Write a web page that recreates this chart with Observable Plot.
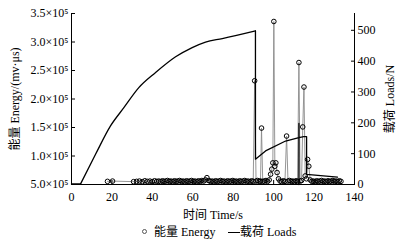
<!DOCTYPE html>
<html><head><meta charset="utf-8">
<script src="https://cdn.jsdelivr.net/npm/d3@7"></script>
<script src="https://cdn.jsdelivr.net/npm/@observablehq/plot@0.6"></script>
<style>
body{margin:0;background:#fff;}
#chart{width:397px;font-family:"Liberation Serif","Times New Roman","DejaVu Serif","Noto Sans CJK SC",serif;color:#000;}
#chart svg text{font-family:"Liberation Serif","Times New Roman","DejaVu Serif","Noto Sans CJK SC",serif;}
.legend{position:relative;width:397px;height:20px;font-size:12px;line-height:20px;}
.legend span{position:absolute;top:0;white-space:nowrap;}
</style></head><body><div id="chart"></div><script>
// Energy series (circles, left axis)
const energyTime = [17.8, 20.3, 30.7, 32.2, 33.6, 35.0, 36.3, 37.5, 38.8, 40.0, 41.1, 42.2, 43.2, 44.1, 45.0, 45.8, 46.7, 47.5, 48.4, 49.2, 50.1, 50.9, 51.8, 52.6, 53.5, 54.3, 55.2, 56.0, 56.9, 57.7, 58.6, 59.4, 60.3, 61.1, 62.0, 62.8, 63.7, 64.5, 65.4, 66.2, 67.0, 67.9, 68.7, 69.6, 70.4, 71.3, 72.1, 73.0, 73.8, 74.7, 75.5, 76.4, 77.2, 78.1, 78.9, 79.8, 80.6, 81.5, 82.3, 83.2, 84.0, 84.9, 85.7, 86.6, 87.4, 88.3, 89.1, 89.9, 90.6, 91.3, 92.1, 92.9, 93.5, 94.0, 94.6, 95.4, 96.2, 97.0, 97.8, 98.5, 99.1, 99.6, 100.1, 100.6, 101.1, 101.7, 102.4, 103.2, 104.0, 104.8, 105.6, 106.4, 107.1, 107.9, 108.7, 109.5, 110.3, 111.1, 111.8, 112.5, 113.1, 113.8, 114.4, 115.0, 115.6, 116.2, 116.8, 117.4, 118.1, 118.9, 119.7, 120.5, 121.3, 122.1, 122.9, 123.7, 124.5, 125.3, 126.1, 126.9, 127.7, 128.5, 129.3, 130.1, 130.9, 131.7, 132.5, 133.3];
const energyValue = [55500, 56000, 55000, 55500, 56000, 55000, 56500, 55500, 56000, 55000, 56500, 55500, 56000, 55000, 56500, 55500, 56000, 57000, 55500, 56000, 55000, 56500, 55500, 56000, 57000, 55500, 56000, 55000, 56500, 55500, 56000, 57000, 55500, 56000, 55000, 56500, 55500, 57000, 56000, 58000, 62000, 57000, 55500, 56000, 55000, 56500, 55500, 56000, 57000, 55500, 56000, 55000, 56500, 55500, 56000, 57000, 55500, 56000, 55000, 56500, 55500, 56000, 57000, 55500, 56000, 55000, 56500, 55500, 232000, 56000, 57000, 55500, 56000, 149000, 55500, 56000, 57000, 55500, 58000, 68000, 77000, 88000, 336000, 82000, 88000, 71000, 60000, 56000, 55000, 56500, 55500, 135000, 56000, 57000, 55500, 56000, 55000, 56500, 55500, 264000, 56000, 57000, 151000, 221000, 65000, 60000, 94000, 82000, 58000, 55500, 56000, 55000, 56500, 55500, 56000, 57000, 55500, 56000, 55000, 56500, 55500, 56000, 57000, 55500, 56000, 55000, 56500, 55500];
// Loads series (line, right axis)
const loadTime = [0, 4.5, 11.9, 19.3, 25.9, 33.3, 41.6, 51.5, 59.7, 66.3, 74.6, 91.0, 91.0, 96.0, 105.9, 112.5, 112.5, 112.5, 112.5, 114.9, 116.3, 116.3, 131.6];
const loadValue = [2, 2, 98, 190, 249, 314, 363, 414, 444, 462, 473, 498, 82, 109, 141, 152, 0, 198, 152, 155, 155, 33, 24];
// Ticks
const xTicks = [0, 20, 40, 60, 80, 100, 120, 140];
const energyTicks = [50000, 100000, 150000, 200000, 250000, 300000, 350000];
const energyTickLabels = ["5.0×10⁵", "1.0×10⁵", "1.5×10⁵", "2.0×10⁵", "2.5×10⁵", "3.0×10⁵", "3.5×10⁵"];
const loadTicks = [0, 100, 200, 300, 400, 500];
const loadTop = 554.5;

const yMin = 50000, yMax = 350000;
const toE = n => yMin + n * (yMax - yMin) / loadTop;
const fromE = e => (e - yMin) * loadTop / (yMax - yMin);

const energy = energyTime.map((t, i) => ({t, e: energyValue[i]}));
const loads = loadTime.map((t, i) => ({t, n: loadValue[i]}));
const loadsRise = loads.slice(1, 12);   // smooth rising part
const loadsRest = loads.slice(11);      // drops and later part

const font = '"Liberation Serif","Times New Roman","DejaVu Serif","Noto Sans CJK SC",serif';
const chart = Plot.plot({
  width: 397, height: 222,
  marginLeft: 71, marginRight: 43, marginTop: 13, marginBottom: 38,
  style: {fontFamily: font, fontSize: "12px", color: "#000", background: "#fff", overflow: "visible"},
  x: {domain: [0, 140]},
  y: {domain: [yMin, yMax]},
  marks: [
    Plot.line(energy, {x: "t", y: "e", stroke: "#8a8a8a", strokeWidth: 0.9}),
    Plot.line(loads.slice(0, 2), {x: "t", y: d => toE(d.n), stroke: "#000", strokeWidth: 1.3}),
    Plot.line(loadsRise, {x: "t", y: d => toE(d.n), stroke: "#000", strokeWidth: 1.3, curve: "monotone-x"}),
    Plot.line(loadsRest, {x: "t", y: d => toE(d.n), stroke: "#000", strokeWidth: 1.3}),
    Plot.dot(energy, {x: "t", y: "e", r: 2.3, stroke: "#000", strokeWidth: 1, fill: "none"}),
    Plot.ruleX([0, 140], {stroke: "#000", strokeWidth: 1}),
    Plot.ruleY([yMin], {stroke: "#000", strokeWidth: 1}),
    Plot.axisX({ticks: xTicks, tickSize: -4, tickPadding: 12, tickFormat: d => String(d), label: "时间 Time/s", labelAnchor: "center", labelArrow: "none", labelOffset: 34}),
    Plot.axisY({ticks: energyTicks, anchor: "left", tickSize: -4, tickPadding: 7, tickFormat: d => energyTickLabels[energyTicks.indexOf(d)], label: "能量 Energy/(mv·μs)", labelAnchor: "center", labelArrow: "none", labelOffset: 61}),
    Plot.axisY({ticks: loadTicks.map(toE), anchor: "right", tickSize: -4, tickPadding: 7, tickFormat: d => String(Math.round(fromE(d))), label: "载荷 Loads/N", labelAnchor: "center", labelArrow: "none", labelOffset: 39})
  ]
});
const root = document.getElementById("chart");
root.appendChild(chart);
const legend = document.createElement("div");
legend.className = "legend";
legend.innerHTML = '<span style="left:142px;top:7px;width:5px;height:5px;border:1px solid #555;border-radius:50%;box-sizing:border-box;"></span>' +
  '<span style="left:154px;">能量 Energy</span>' +
  '<span style="left:228px;top:10px;width:12px;height:0;border-top:1px solid #000;"></span>' +
  '<span style="left:240px;">载荷 Loads</span>';
root.appendChild(legend);
</script></body></html>
